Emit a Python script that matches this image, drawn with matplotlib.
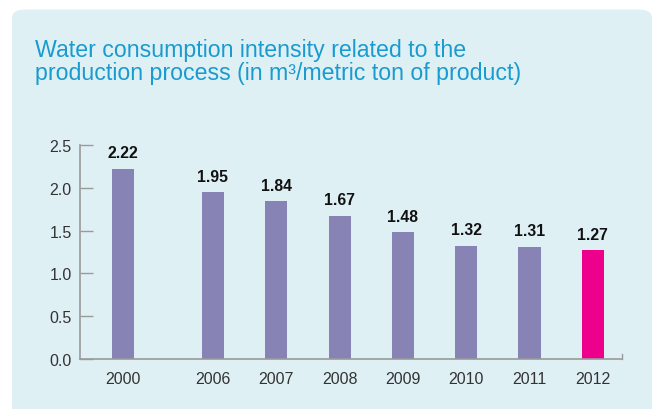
import matplotlib.pyplot as plt
from matplotlib.patches import FancyBboxPatch

years = ['2000', '2006', '2007', '2008', '2009', '2010', '2011', '2012']
values = [2.22, 1.95, 1.84, 1.67, 1.48, 1.32, 1.31, 1.27]
labels = ['2.22', '1.95', '1.84', '1.67', '1.48', '1.32', '1.31', '1.27']
colors = ['#8783b5'] * 7 + ['#ec008c']

# gap between 2000 and 2006
xpos = [0] + [1.42 + i for i in range(7)]

plt.rcParams['font.family'] = ['Liberation Sans', 'DejaVu Sans']

fig = plt.figure(figsize=(6.54, 4.10), dpi=100)
fig.patch.set_facecolor('white')

panel = FancyBboxPatch((12 / 654, -0.05), 640 / 654, 420 / 410,
                       boxstyle='round,pad=0,rounding_size=0.02',
                       transform=fig.transFigure, facecolor='#dff0f5',
                       edgecolor='none', zorder=-5)
fig.patches.append(panel)

fig.text(35 / 654, 1 - 57 / 410,
         'Water consumption intensity related to the',
         color='#1a9bd0', fontsize=16.7, va='baseline', ha='left')
fig.text(35 / 654, 1 - 80 / 410,
         'production process (in m³/metric ton of product)',
         color='#1a9bd0', fontsize=16.7, va='baseline', ha='left')

ax = fig.add_axes([80 / 654, 50 / 410, 542 / 654, 214 / 410])
ax.set_zorder(2)
ax.set_facecolor('none')
ax.bar(xpos, values, width=0.35, color=colors, zorder=2)
for x, v, t in zip(xpos, values, labels):
    ax.text(x, v + 0.1, t, ha='center', va='bottom', fontsize=11.3,
            fontweight='bold', color='#111111')

ax.set_xlim(-0.68, 7.88)
ax.set_ylim(0, 2.5)
ax.set_yticks([0, 0.5, 1.0, 1.5, 2.0, 2.5])
ax.set_yticklabels(['0.0', '0.5', '1.0', '1.5', '2.0', '2.5'])
ax.set_xticks(xpos)
ax.set_xticklabels(years)

for s in ['top', 'right']:
    ax.spines[s].set_visible(False)
for s in ['left', 'bottom']:
    ax.spines[s].set_color('#9a9a9a')
    ax.spines[s].set_linewidth(1.2)

ax.tick_params(axis='y', direction='in', length=9, width=1, color='#9a9a9a',
               labelsize=11.5, labelcolor='#333333', pad=6)
ax.tick_params(axis='x', length=0, labelsize=11.5, labelcolor='#333333', pad=9)
# small tick at right end of x axis
ax.plot([7.88, 7.88], [0, 0.06], color='#9a9a9a', lw=1, clip_on=False)

fig.savefig('out.png', dpi=100)
